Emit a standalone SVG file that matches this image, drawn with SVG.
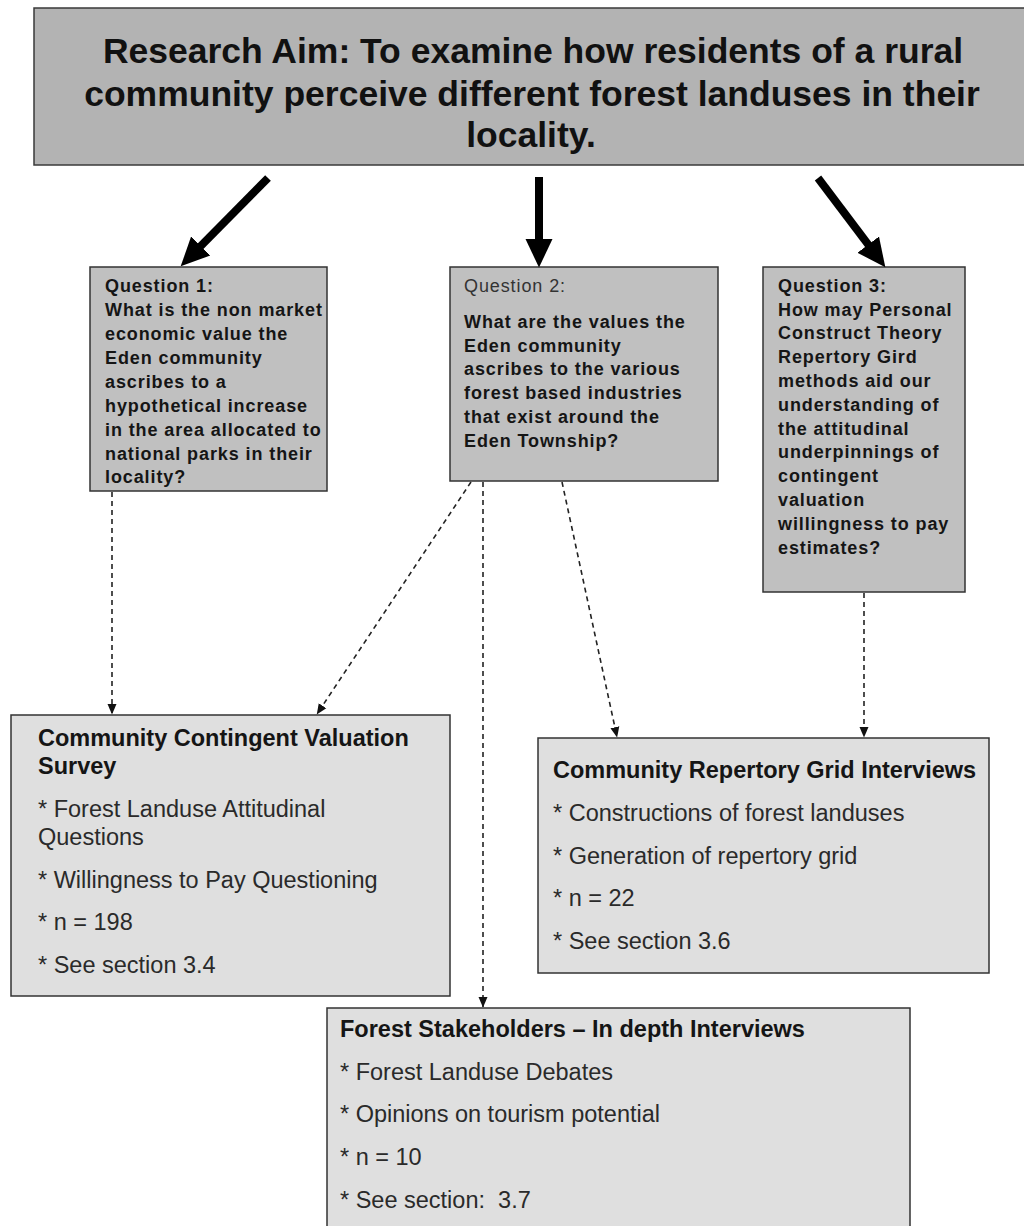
<svg xmlns="http://www.w3.org/2000/svg" width="1024" height="1226" viewBox="0 0 1024 1226">
  <style>
    .aim { fill: #b3b3b3; stroke: #3a3a3a; stroke-width: 1.5; }
    .q { fill: #c0c0c0; stroke: #333333; stroke-width: 1.5; }
    .method { fill: #dfdfdf; stroke: #333333; stroke-width: 1.5; }
    .aimText { font-family: "Liberation Sans", Arial, sans-serif; font-weight: bold; font-size: 35.5px; fill: #111111; text-anchor: middle; }
    .qText { font-family: "Liberation Sans", Arial, sans-serif; font-weight: bold; font-size: 18px; letter-spacing: 0.9px; fill: #151515; }
    .qPlain { font-family: "Liberation Sans", Arial, sans-serif; font-size: 18px; letter-spacing: 0.9px; fill: #333333; }
    .mTitle { font-family: "Liberation Sans", Arial, sans-serif; font-weight: bold; font-size: 23.5px; fill: #151515; }
    .mItem { font-family: "Liberation Sans", Arial, sans-serif; font-size: 23.5px; fill: #2a2a2a; white-space: pre; }
    .thick { stroke: #000000; stroke-width: 8; fill: none; marker-end: url(#bigHead); }
    .dash { stroke: #222222; stroke-width: 1.6; stroke-dasharray: 5 4; fill: none; marker-end: url(#smallHead); }
  </style>
  <defs>
    <marker id="bigHead" markerUnits="userSpaceOnUse" markerWidth="30" markerHeight="30" viewBox="0 0 30 30" refX="2" refY="15" orient="auto">
      <path d="M0,1.5 L28.5,15 L0,28.5 z" fill="#000000"/>
    </marker>
    <marker id="smallHead" markerUnits="userSpaceOnUse" markerWidth="11" markerHeight="10" viewBox="0 0 11 10" refX="10" refY="5" orient="auto">
      <path d="M0,0.5 L10.5,5 L0,9.5 z" fill="#111111"/>
    </marker>
  </defs>

  <rect width="1024" height="1226" fill="#ffffff"/>

  <!-- Research aim -->
  <g id="aim">
    <rect class="aim" x="34" y="8" width="1000" height="157"/>
    <text class="aimText" x="533" y="63">Research Aim: To examine how residents of a rural</text>
    <text class="aimText" x="532" y="106">community perceive different forest landuses in their</text>
    <text class="aimText" x="531" y="147">locality.</text>
  </g>

  <!-- Question 1 -->
  <g id="question1">
    <rect class="q" x="90" y="267" width="237" height="224"/>
    <text class="qText" x="105" y="292">Question 1:</text>
    <text class="qText" x="105" y="316">What is the non market</text>
    <text class="qText" x="105" y="340">economic value the</text>
    <text class="qText" x="105" y="364">Eden community</text>
    <text class="qText" x="105" y="388">ascribes to a</text>
    <text class="qText" x="105" y="412">hypothetical increase</text>
    <text class="qText" x="105" y="436">in the area allocated to</text>
    <text class="qText" x="105" y="460">national parks in their</text>
    <text class="qText" x="105" y="483">locality?</text>
  </g>

  <!-- Question 2 -->
  <g id="question2">
    <rect class="q" x="450" y="267" width="268" height="214"/>
    <text class="qPlain" x="464" y="292">Question 2:</text>
    <text class="qText" x="464" y="328">What are the values the</text>
    <text class="qText" x="464" y="352">Eden community</text>
    <text class="qText" x="464" y="375">ascribes to the various</text>
    <text class="qText" x="464" y="399">forest based industries</text>
    <text class="qText" x="464" y="423">that exist around the</text>
    <text class="qText" x="464" y="447">Eden Township?</text>
  </g>

  <!-- Question 3 -->
  <g id="question3">
    <rect class="q" x="763" y="267" width="202" height="325"/>
    <text class="qText" x="778" y="292">Question 3:</text>
    <text class="qText" x="778" y="316">How may Personal</text>
    <text class="qText" x="778" y="339">Construct Theory</text>
    <text class="qText" x="778" y="363">Repertory Gird</text>
    <text class="qText" x="778" y="387">methods aid our</text>
    <text class="qText" x="778" y="411">understanding of</text>
    <text class="qText" x="778" y="435">the attitudinal</text>
    <text class="qText" x="778" y="458">underpinnings of</text>
    <text class="qText" x="778" y="482">contingent</text>
    <text class="qText" x="778" y="506">valuation</text>
    <text class="qText" x="778" y="530">willingness to pay</text>
    <text class="qText" x="778" y="554">estimates?</text>
  </g>

  <!-- Community contingent valuation survey -->
  <g id="cv-survey">
    <rect class="method" x="11" y="715" width="439" height="281"/>
    <text class="mTitle" x="38" y="746">Community Contingent Valuation</text>
    <text class="mTitle" x="38" y="774">Survey</text>
    <text class="mItem" x="38" y="817">* Forest Landuse Attitudinal</text>
    <text class="mItem" x="38" y="845">Questions</text>
    <text class="mItem" x="38" y="888">* Willingness to Pay Questioning</text>
    <text class="mItem" x="38" y="930">* n = 198</text>
    <text class="mItem" x="38" y="973">* See section 3.4</text>
  </g>

  <!-- Community repertory grid interviews -->
  <g id="repgrid">
    <rect class="method" x="538" y="738" width="451" height="235"/>
    <text class="mTitle" x="553" y="778">Community Repertory Grid Interviews</text>
    <text class="mItem" x="553" y="821">* Constructions of forest landuses</text>
    <text class="mItem" x="553" y="864">* Generation of repertory grid</text>
    <text class="mItem" x="553" y="906">* n = 22</text>
    <text class="mItem" x="553" y="949">* See section 3.6</text>
  </g>

  <!-- Forest stakeholder interviews -->
  <g id="stakeholders">
    <rect class="method" x="327" y="1008" width="583" height="230"/>
    <text class="mTitle" x="340" y="1037">Forest Stakeholders – In depth Interviews</text>
    <text class="mItem" x="340" y="1080">* Forest Landuse Debates</text>
    <text class="mItem" x="340" y="1122">* Opinions on tourism potential</text>
    <text class="mItem" x="340" y="1165">* n = 10</text>
    <text class="mItem" x="340" y="1208">* See section:&#160; 3.7</text>
  </g>

  <!-- Connectors -->
  <g id="connectors">
    <line class="thick" x1="268" y1="178" x2="199.3" y2="247.5"/>
    <line class="thick" x1="539" y1="177" x2="539" y2="241"/>
    <line class="thick" x1="818" y1="178" x2="869.4" y2="246.2"/>
    <line class="dash" x1="112" y1="492" x2="112" y2="714"/>
    <line class="dash" x1="471" y1="482" x2="317" y2="714"/>
    <line class="dash" x1="483" y1="482" x2="483" y2="1007"/>
    <line class="dash" x1="562" y1="482" x2="617" y2="737"/>
    <line class="dash" x1="864" y1="593" x2="864" y2="737"/>
  </g>
</svg>
